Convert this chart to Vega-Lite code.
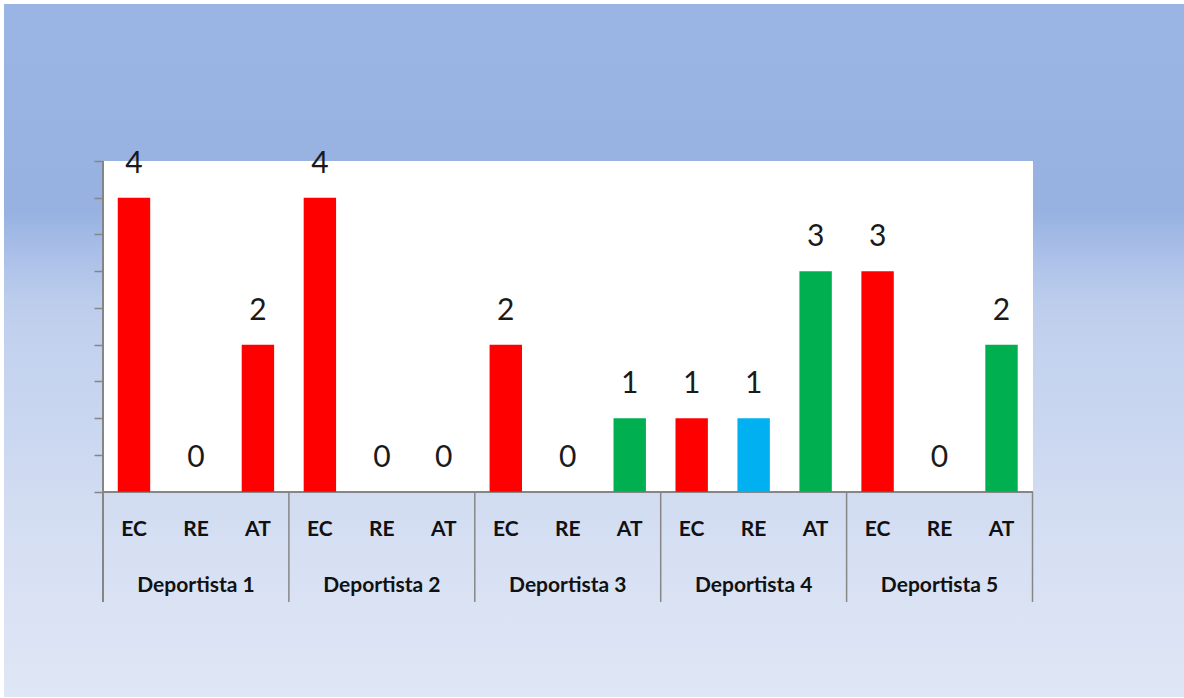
{
  "$schema": "https://vega.github.io/schema/vega-lite/v6.json",
  "width": 1180,
  "height": 693,
  "autosize": {"type": "none"},
  "padding": {"top": 4, "left": 4, "right": 0, "bottom": 1},
  "background": "#ffffff",
  "config": {
    "view": {
      "stroke": null,
      "fill": {
        "gradient": "linear",
        "x1": 0, "y1": 0, "x2": 0, "y2": 1,
        "stops": [
          {"offset": 0, "color": "#9ab4e3"},
          {"offset": 0.3, "color": "#97b2e1"},
          {"offset": 0.37, "color": "#adc1e9"},
          {"offset": 0.43, "color": "#bccdec"},
          {"offset": 0.5, "color": "#c3d2ee"},
          {"offset": 0.62, "color": "#cad7f0"},
          {"offset": 0.69, "color": "#d0dbf1"},
          {"offset": 0.8, "color": "#d7e0f3"},
          {"offset": 1, "color": "#dfe6f5"}
        ]
      }
    }
  },
  "data": {
    "values": [
      {"group": "Deportista 1", "cat": "EC", "value": 4},
      {"group": "Deportista 1", "cat": "RE", "value": 0},
      {"group": "Deportista 1", "cat": "AT", "value": 2},
      {"group": "Deportista 2", "cat": "EC", "value": 4},
      {"group": "Deportista 2", "cat": "RE", "value": 0},
      {"group": "Deportista 2", "cat": "AT", "value": 0},
      {"group": "Deportista 3", "cat": "EC", "value": 2},
      {"group": "Deportista 3", "cat": "RE", "value": 0},
      {"group": "Deportista 3", "cat": "AT", "value": 1},
      {"group": "Deportista 4", "cat": "EC", "value": 1},
      {"group": "Deportista 4", "cat": "RE", "value": 1},
      {"group": "Deportista 4", "cat": "AT", "value": 3},
      {"group": "Deportista 5", "cat": "EC", "value": 3},
      {"group": "Deportista 5", "cat": "RE", "value": 0},
      {"group": "Deportista 5", "cat": "AT", "value": 2}
    ]
  },
  "resolve": {"scale": {"x": "independent"}},
  "layer": [
    {
      "layer": [
        {
          "mark": {"type": "rect", "fill": "#ffffff"},
          "encoding": {
            "x": {"datum": 0, "type": "quantitative", "scale": {"domain": [-0.5325, 5.815], "nice": false, "zero": false}, "axis": null},
            "x2": {"datum": 5},
            "y": {
              "datum": 4.5, "type": "quantitative", "title": null,
              "scale": {"domain": [-2.793, 6.635], "nice": false, "zero": false},
              "axis": {
                "values": [0, 0.5, 1, 1.5, 2, 2.5, 3, 3.5, 4, 4.5],
                "labels": false, "domain": false, "grid": false,
                "tickSize": 9, "tickWidth": 1.5, "tickColor": "#868686",
                "offset": -99, "title": null
              }
            },
            "y2": {"datum": 0}
          }
        },
        {
          "mark": {"type": "rule", "color": "#868686", "strokeWidth": 1.5},
          "encoding": {
            "x": {"datum": 0, "type": "quantitative"},
            "x2": {"datum": 5},
            "y": {"datum": 0, "type": "quantitative", "title": null}
          }
        },
        {
          "mark": {"type": "rule", "color": "#868686", "strokeWidth": 1.5},
          "encoding": {
            "x": {"datum": 0, "type": "quantitative"},
            "y": {"datum": 4.5, "type": "quantitative", "title": null},
            "y2": {"datum": -1.5}
          }
        }
      ]
    },
    {
      "layer": [
        {
          "mark": {"type": "bar"},
          "encoding": {
            "x": {"field": "group", "type": "nominal", "axis": null,
                  "scale": {"paddingInner": 0, "paddingOuter": 0.67375, "align": 0.3952}},
            "xOffset": {"field": "cat", "type": "nominal",
                        "scale": {"domain": ["EC", "RE", "AT"], "paddingInner": 0.477, "paddingOuter": 0.2385}},
            "y": {"field": "value", "type": "quantitative", "title": null},
            "color": {
              "condition": {"test": "datum.group === 'Deportista 1'", "value": "#ff0000"},
              "field": "cat", "type": "nominal", "legend": null,
              "scale": {"domain": ["EC", "RE", "AT"], "range": ["#ff0000", "#00b0f0", "#00b050"]}
            }
          }
        },
        {
          "mark": {"type": "text", "baseline": "alphabetic", "dy": -25, "fontSize": 30,
                   "font": "Lato", "color": "#1a1a1a"},
          "encoding": {
            "x": {"field": "group", "type": "nominal"},
            "xOffset": {"field": "cat", "type": "nominal"},
            "y": {"field": "value", "type": "quantitative", "title": null},
            "text": {"field": "value", "type": "quantitative"}
          }
        },
        {
          "mark": {"type": "text", "baseline": "middle", "fontSize": 21, "fontWeight": "bold",
                   "font": "Lato", "color": "#111111"},
          "encoding": {
            "x": {"field": "group", "type": "nominal"},
            "xOffset": {"field": "cat", "type": "nominal"},
            "y": {"datum": -0.52, "type": "quantitative", "title": null},
            "text": {"field": "cat", "type": "nominal"}
          }
        },
        {
          "transform": [{"filter": {"field": "cat", "equal": "EC"}}],
          "mark": {"type": "text", "baseline": "middle", "fontSize": 21, "fontWeight": "bold",
                   "font": "Lato", "color": "#111111"},
          "encoding": {
            "x": {"field": "group", "type": "nominal"},
            "y": {"datum": -1.28, "type": "quantitative", "title": null},
            "text": {"field": "group", "type": "nominal"}
          }
        },
        {
          "transform": [{"filter": {"field": "cat", "equal": "EC"}}],
          "mark": {"type": "rule", "color": "#868686", "strokeWidth": 1.5},
          "encoding": {
            "x": {"field": "group", "type": "nominal", "bandPosition": 0},
            "y": {"datum": 0, "type": "quantitative", "title": null},
            "y2": {"datum": -1.5}
          }
        },
        {
          "transform": [{"filter": {"and": [{"field": "cat", "equal": "EC"}, {"field": "group", "equal": "Deportista 5"}]}}],
          "mark": {"type": "rule", "color": "#868686", "strokeWidth": 1.5},
          "encoding": {
            "x": {"field": "group", "type": "nominal", "bandPosition": 1},
            "y": {"datum": 0, "type": "quantitative", "title": null},
            "y2": {"datum": -1.5}
          }
        }
      ]
    }
  ]
}
